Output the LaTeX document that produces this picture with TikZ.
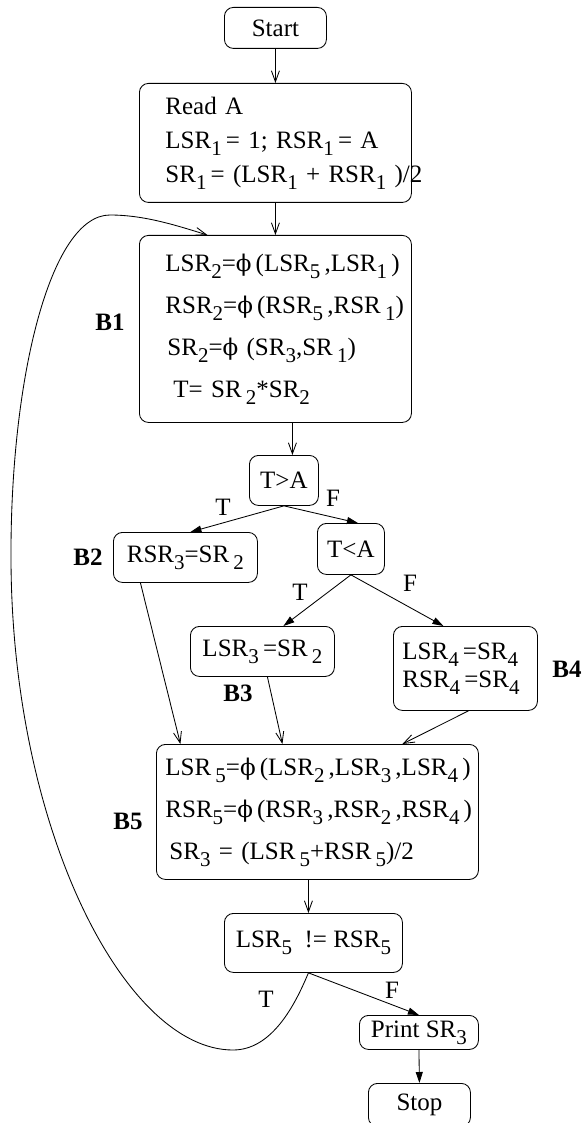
\documentclass[tikz,border=0pt]{standalone}
\usepackage{fontspec}
\setmainfont{Liberation Serif}
\newfontfamily\dvs{DejaVu Serif}
\usetikzlibrary{arrows.meta,calc}
\newcommand{\sbs}[1]{\raisebox{-7pt}{\fontsize{21}{21}\selectfont #1}}
\newcommand{\ph}{{\dvs\fontsize{23}{23}\selectfont ϕ}}
\begin{document}
\begin{tikzpicture}[x=1pt,y=-1pt,line width=0.85pt,
  font=\fontsize{25}{30}\selectfont,
  box/.style={draw, rounded corners=9pt, inner sep=0pt, anchor=north west},
  multi/.style={align=left, inner xsep=#1},
  openarrow/.style={-{Straight Barb[length=11pt,width=8pt]}},
  solidarrow/.style={-{Triangle[length=11pt,width=7pt]}},
  lab/.style={font=\fontsize{25}{30}\selectfont},
  blab/.style={font=\bfseries\fontsize{25}{30}\selectfont}]
\useasboundingbox (0,0) rectangle (585,1123);

\node[box, minimum width=102pt, minimum height=41pt] (start) at (224,7) {Start};
\node[box, minimum width=272pt, minimum height=119pt, text width=220pt, multi=26pt,
  font=\fontsize{25}{34}\selectfont] (readA) at (139,83)
  {\mbox{Read A}\\ \mbox{LSR\sbs{1}\,= 1; RSR\sbs{1}\,= A}\\ \mbox{SR\sbs{1}\,= (LSR\sbs{1} + RSR\sbs{1} )/2}};
\node[box, minimum width=272pt, minimum height=187pt, text width=220pt, multi=26pt,
  font=\fontsize{25}{42}\selectfont] (B1) at (139,235)
  {\mbox{LSR\sbs{2}=\ph\,(LSR\sbs{5}\,,LSR\sbs{1}\,)}\\
   \mbox{RSR\sbs{2}=\ph\,(RSR\sbs{5}\,,RSR\,\sbs{1})}\\
   \mbox{\hspace{2pt}SR\sbs{2}=\ph\ (SR\sbs{3},SR\,\sbs{1})}\\
   \mbox{\hspace{8pt}T= SR\,\sbs{2}*SR\sbs{2}}};
\node[box, minimum width=69pt, minimum height=50pt] (TA) at (249,455) {T>A};
\node[box, minimum width=144pt, minimum height=50pt] (B2) at (113,532) {RSR\sbs{3}=SR\,\sbs{2}};
\node[box, minimum width=67pt, minimum height=51pt] (TLA) at (317,523) {T<A};
\node[box, minimum width=144pt, minimum height=50pt] (B3) at (190,626) {LSR\sbs{3}\,=SR\,\sbs{2}};
\node[box, minimum width=144pt, minimum height=84pt, text width=126pt, multi=9pt,
  font=\fontsize{25}{28}\selectfont] (B4) at (393,626)
  {\mbox{LSR\sbs{4}\,=SR\sbs{4}}\\ \mbox{RSR\sbs{4}\,=SR\sbs{4}}};
\node[box, minimum width=322pt, minimum height=135pt, text width=304pt, multi=9pt,
  font=\fontsize{25}{42}\selectfont] (B5) at (156,744)
  {\mbox{LSR\,\sbs{5}=\ph\,(LSR\sbs{2}\,,LSR\sbs{3}\,,LSR\sbs{4}\,)}\\
   \mbox{RSR\sbs{5}=\ph\,(RSR\sbs{3}\,,RSR\sbs{2}\,,RSR\sbs{4}\,)}\\
   \mbox{\hspace{4pt}SR\sbs{3} = (LSR\,\sbs{5}+RSR\,\sbs{5})/2}};
\node[box, minimum width=178pt, minimum height=59pt] (cmp) at (224,913) {LSR\sbs{5}\ \ != RSR\sbs{5}};
\node[box, minimum width=119pt, minimum height=34pt] (print) at (359,1015) {Print SR\sbs{3}};
\node[box, minimum width=102pt, minimum height=43pt] (stop) at (368,1083) {Stop};

\node[blab] (lB1) at (110,322) {B1};
\node[blab] (lB2) at (88,557) {B2};
\node[blab] (lB3) at (238,693) {B3};
\node[blab] (lB4) at (567,669) {B4};
\node[blab] (lB5) at (128,821) {B5};
\node[lab] (t1) at (223,507) {T};
\node[lab] (f1) at (333,498) {F};
\node[lab] (t2) at (300,592) {T};
\node[lab] (f2) at (410,583) {F};
\node[lab] (t3) at (266,999) {T};
\node[lab] (f3) at (392,990) {F};

\draw[openarrow] (start.south) -- (readA.north);
\draw[openarrow] (readA.south) -- (B1.north);
\draw[openarrow] ([xshift=8.5pt]TA.north |- B1.south) -- ([xshift=8.5pt]TA.north);
\draw[solidarrow] (TA.south) -- ([xshift=5pt]B2.north);
\draw[solidarrow] (TA.south) -- ([xshift=7pt]TLA.north);
\draw[solidarrow] (TLA.south) -- ([xshift=21pt]B3.north);
\draw[solidarrow] (TLA.south) -- ([xshift=-22pt]B4.north);
\draw[openarrow] ([xshift=-45pt]B2.south) -- ([xshift=-137pt]B5.north);
\draw[openarrow] ([xshift=5pt]B3.south) -- ([xshift=-35pt]B5.north);
\draw[openarrow] ([xshift=3pt]B4.south) -- ([xshift=85pt]B5.north);
\draw[openarrow] ([xshift=-5pt]cmp.north |- B5.south) -- ([xshift=-5pt]cmp.north);
\draw[solidarrow] ([xshift=-5pt]cmp.south) -- (print.north);
\draw[solidarrow] (print.south) -- (stop.north);
\draw[openarrow] ([xshift=-5pt]cmp.south) .. controls (295,1005) and (272,1050) .. (233,1050)
  .. controls (125,1050) and (12,830) .. (11,560)
  .. controls (10,380) and (50,215) .. (110,215)
  .. controls (145,215) and (178,226) .. ([xshift=-68pt]B1.north);
\end{tikzpicture}
\end{document}
